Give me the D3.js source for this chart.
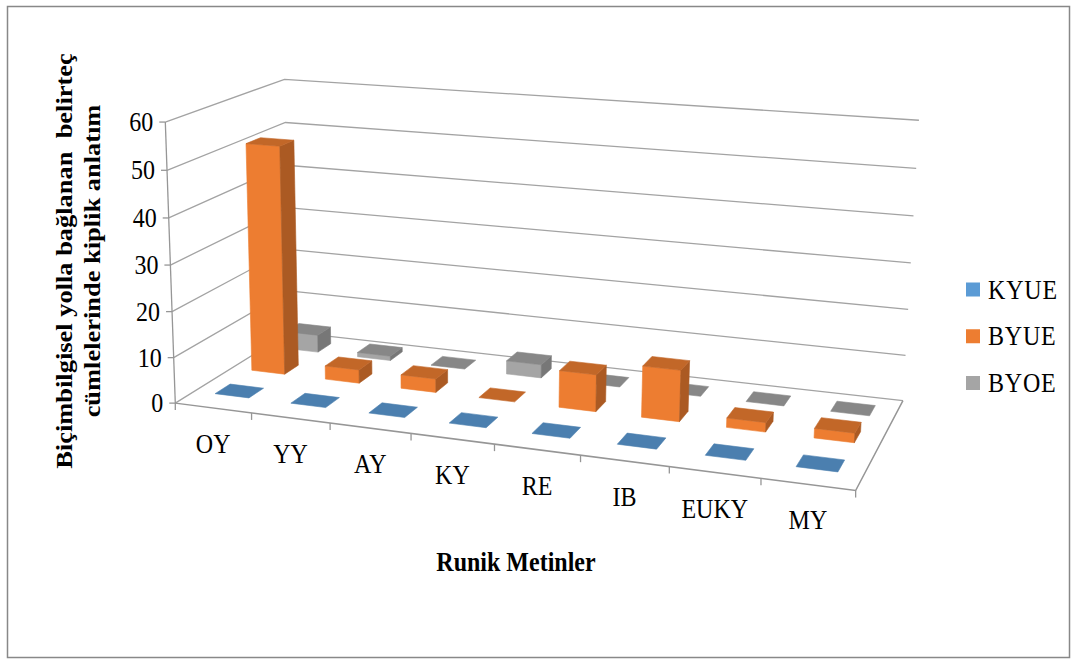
<!DOCTYPE html>
<html>
<head>
<meta charset="utf-8">
<script src="https://cdn.jsdelivr.net/npm/d3@7"></script>
<style>
  body { margin: 0; background: #fff; }
  svg { display: block; }
  text { font-family: "Liberation Serif", "Times New Roman", serif; fill: #000; }
</style>
</head>
<body>
<svg id="chart" width="1076" height="664"></svg>
<script>
// ---- data ----
const categories = ["OY", "YY", "AY", "KY", "RE", "IB", "EUKY", "MY"];
const seriesNames = ["KYUE", "BYUE", "BYOE"];
const kyueValues = [0, 0, 0, 0, 0, 0, 0, 0];
const byueValues = [51, 3, 3, 0, 8, 11, 2, 2];
const byoeValues = [4, 1, 0, 3, 0, 0, 0, 0];
const seriesColors = ["#5b9bd5", "#ed7d31", "#a5a5a5"];
const yTickValues = [0, 10, 20, 30, 40, 50, 60];
const yTitleLines = ["Biçimbilgisel yolla bağlanan  belirteç", "cümlelerinde kiplik anlatım"];
const xTitle = "Runik Metinler";

const seriesValues = [kyueValues, byueValues, byoeValues];

// ---- 3D scales: x = category position, y = value, z = depth (front 0 .. back 1) ----
const xBand = d3.scaleBand().domain(categories).range([0, 8]).paddingInner(0.55).paddingOuter(0.275);
const xEdge = d3.scaleLinear().domain([0, categories.length]).range([0, 8]);
const yScale = d3.scaleLinear().domain([0, 60]).range([0, 6]);
const zBand = d3.scaleBand().domain(seriesNames).range([0.06, 1]).paddingInner(0.6).paddingOuter(0.3);

// Plot box frame: [x, value, z, screenX, screenY] for corners and edge points of the walls/floor
const frame = [
  [0, 0, 0, 178, 402], [8, 0, 0, 855, 490], [4, 0, 0, 495, 447],
  [0, 60, 0, 163, 122], [0, 30, 0, 170, 264],
  [0, 0, 1, 287, 332], [0, 60, 1, 287, 80],
  [8, 0, 1, 903, 400], [8, 60, 1, 918, 120], [8, 30, 1, 912, 263]
];

// Fit a perspective (3x4 projective) camera to the frame by least squares
function fitProjection(pts) {
  const rows = [], rhs = [];
  pts.forEach(([X, val, Z, u, v]) => {
    const Y = yScale(val);
    const un = (u - 540) / 500, vn = (v - 330) / 500;
    rows.push([X, Y, Z, 1, 0, 0, 0, 0, -un * X, -un * Y, -un * Z]); rhs.push(un);
    rows.push([0, 0, 0, 0, X, Y, Z, 1, -vn * X, -vn * Y, -vn * Z]); rhs.push(vn);
  });
  const n = 11;
  const N = Array.from({ length: n }, () => new Array(n).fill(0));
  const r = new Array(n).fill(0);
  rows.forEach((row, k) => {
    for (let i = 0; i < n; i++) {
      r[i] += row[i] * rhs[k];
      for (let j = 0; j < n; j++) N[i][j] += row[i] * row[j];
    }
  });
  for (let c = 0; c < n; c++) {
    let p = c;
    for (let i = c + 1; i < n; i++) if (Math.abs(N[i][c]) > Math.abs(N[p][c])) p = i;
    [N[c], N[p]] = [N[p], N[c]]; [r[c], r[p]] = [r[p], r[c]];
    for (let i = c + 1; i < n; i++) {
      const f = N[i][c] / N[c][c];
      for (let j = c; j < n; j++) N[i][j] -= f * N[c][j];
      r[i] -= f * r[c];
    }
  }
  const m = new Array(n).fill(0);
  for (let i = n - 1; i >= 0; i--) {
    let s = r[i];
    for (let j = i + 1; j < n; j++) s -= N[i][j] * m[j];
    m[i] = s / N[i][i];
  }
  return m;
}
const M = fitProjection(frame);

// world (x, value, z) -> [screenX, screenY, w]
function project(X, val, Z) {
  const Y = yScale(val);
  const w = M[8] * X + M[9] * Y + M[10] * Z + 1;
  return [
    540 + 500 * (M[0] * X + M[1] * Y + M[2] * Z + M[3]) / w,
    330 + 500 * (M[4] * X + M[5] * Y + M[6] * Z + M[7]) / w,
    w
  ];
}

const svg = d3.select("#chart");
const SY = 1.15; // text is drawn slightly tall
const serif = '"Liberation Serif", "Times New Roman", serif';

// ---- outer border ----
svg.append("rect")
  .attr("x", 7.5).attr("y", 6.5).attr("width", 1062).attr("height", 651)
  .attr("fill", "#fff").attr("stroke", "#888").attr("stroke-width", 1.5);

const line = d3.line();
const gridColor = "#a3a3a3";

// ---- walls: gridlines across left wall and back wall ----
const gWalls = svg.append("g");
yTickValues.forEach(v => {
  gWalls.append("path")
    .attr("d", line([project(0, v, 0), project(0, v, 1), project(8, v, 1)].map(p => [p[0], p[1]])))
    .attr("fill", "none").attr("stroke", gridColor).attr("stroke-width", 1.3);
});

// ---- floor edges ----
const gFloor = svg.append("g");
gFloor.append("path")
  .attr("d", line([project(0, 0, 0), project(8, 0, 0), project(8, 0, 1)].map(p => [p[0], p[1]])))
  .attr("fill", "none").attr("stroke", "#969696").attr("stroke-width", 1.5);

// category ticks on front edge
d3.range(categories.length + 1).forEach(k => {
  const p = project(xEdge(k), 0, 0);
  gFloor.append("line")
    .attr("x1", p[0]).attr("y1", p[1]).attr("x2", p[0]).attr("y2", p[1] + 7)
    .attr("stroke", "#969696").attr("stroke-width", 1.3);
});

// ---- value axis ----
const gAxis = svg.append("g");
{
  const a = project(0, 0, 0), b = project(0, 60, 0);
  gAxis.append("line").attr("x1", a[0]).attr("y1", a[1]).attr("x2", b[0]).attr("y2", b[1])
    .attr("stroke", "#969696").attr("stroke-width", 1.3);
}
yTickValues.forEach(v => {
  const p = project(0, v, 0);
  gAxis.append("line").attr("x1", p[0] - 6).attr("y1", p[1]).attr("x2", p[0]).attr("y2", p[1])
    .attr("stroke", "#969696").attr("stroke-width", 1.3);
  gAxis.append("text")
    .attr("transform", `translate(${p[0] - 12},${p[1]}) scale(1,${SY})`)
    .attr("text-anchor", "end").attr("dominant-baseline", "central")
    .attr("font-family", serif).attr("font-size", 24).text(v);
});

// ---- bars ----
function shade(color, k) {
  const c = d3.rgb(color);
  return d3.rgb(c.r * k, c.g * k, c.b * k).formatHex();
}
function signedArea(pts) {
  let s = 0;
  for (let i = 0; i < pts.length; i++) {
    const a = pts[i], b = pts[(i + 1) % pts.length];
    s += a[0] * b[1] - b[0] * a[1];
  }
  return s / 2;
}

const bars = [];
seriesNames.forEach((s, si) => {
  categories.forEach((c, ci) => {
    bars.push({ series: si, cat: ci, value: seriesValues[si][ci], color: seriesColors[si] });
  });
});
bars.forEach(b => {
  const x0 = xBand(categories[b.cat]), x1 = x0 + xBand.bandwidth();
  const z0 = zBand(seriesNames[b.series]), z1 = z0 + zBand.bandwidth();
  b.box = { x0, x1, z0, z1 };
  b.w = project((x0 + x1) / 2, 0, (z0 + z1) / 2)[2];
});
// back rows first, then farthest to nearest within a row
bars.sort((a, b) => (b.series - a.series) || (b.w - a.w));

// orientation reference: the front face of the plot box faces the viewer
const refSign = Math.sign(signedArea([project(0, 0, 0), project(0, 60, 0), project(8, 60, 0), project(8, 0, 0)].map(p => [p[0], p[1]])));

const gBars = svg.append("g");
bars.forEach(b => {
  const { x0, x1, z0, z1 } = b.box;
  const v = b.value;
  const P = project;
  const faces = [
    { pts: [P(x0, 0, z0), P(x0, v, z0), P(x1, v, z0), P(x1, 0, z0)], k: 1 },
    { pts: [P(x0, 0, z1), P(x1, 0, z1), P(x1, v, z1), P(x0, v, z1)], k: 0.7 },
    { pts: [P(x1, 0, z0), P(x1, v, z0), P(x1, v, z1), P(x1, 0, z1)], k: 0.72 },
    { pts: [P(x0, 0, z0), P(x0, 0, z1), P(x0, v, z1), P(x0, v, z0)], k: 0.72 },
    { pts: [P(x0, v, z0), P(x0, v, z1), P(x1, v, z1), P(x1, v, z0)], k: 0.82 }
  ];
  faces.forEach(f => {
    const pts2 = f.pts.map(p => [p[0], p[1]]);
    const area = signedArea(pts2);
    if (Math.abs(area) < 0.01) return;
    if (Math.sign(area) !== refSign) return;
    const col = shade(b.color, f.k);
    gBars.append("path")
      .attr("d", line(pts2) + "Z")
      .attr("fill", col).attr("stroke", col).attr("stroke-width", 0.6).attr("stroke-linejoin", "round");
  });
});

// ---- category labels ----
const gCat = svg.append("g");
categories.forEach(c => {
  const p = project(xBand(c) + xBand.bandwidth() / 2, 0, 0);
  gCat.append("text")
    .attr("transform", `translate(${p[0]},${p[1] + 36}) scale(1,${SY})`)
    .attr("text-anchor", "middle").attr("dominant-baseline", "central")
    .attr("font-family", serif).attr("font-size", 24).text(c);
});

// ---- axis titles ----
svg.append("text")
  .attr("transform", `translate(516,562) scale(1,${SY})`)
  .attr("text-anchor", "middle").attr("dominant-baseline", "central")
  .attr("font-family", serif).attr("font-size", 24).attr("font-weight", "bold").text(xTitle);

const gYTitle = svg.append("g").attr("transform", `translate(78,261) scale(1,${SY}) rotate(-90)`);
yTitleLines.forEach((t, i) => {
  gYTitle.append("text")
    .attr("x", 0).attr("y", (i - 0.5) * 28)
    .attr("text-anchor", "middle").attr("dominant-baseline", "central")
    .attr("font-family", serif).attr("font-size", 23).attr("font-weight", "bold")
    .attr("xml:space", "preserve").style("white-space", "pre")
    .text(t);
});

// ---- legend ----
const legendY = d3.scalePoint().domain(seriesNames).range([289.5, 383]);
const gLegend = svg.append("g");
seriesNames.forEach((s, i) => {
  const y = legendY(s);
  gLegend.append("rect").attr("x", 966).attr("y", y - 7).attr("width", 14).attr("height", 14)
    .attr("fill", seriesColors[i]);
  gLegend.append("text")
    .attr("transform", `translate(988,${y}) scale(1,${SY})`)
    .attr("dominant-baseline", "central").attr("letter-spacing", 0.8)
    .attr("font-family", serif).attr("font-size", 24).text(s);
});
</script>
</body>
</html>
